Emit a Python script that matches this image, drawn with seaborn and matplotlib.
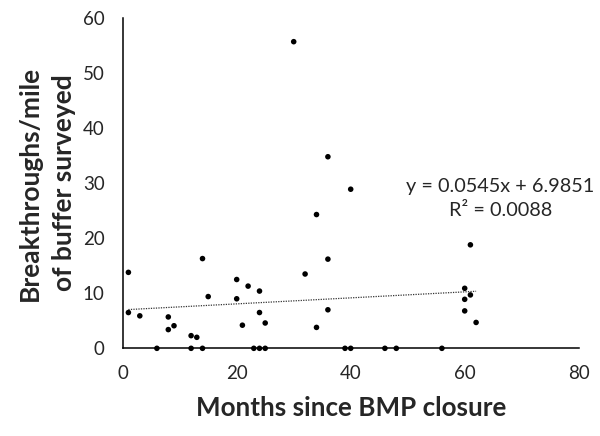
import matplotlib
matplotlib.use("Agg")
import matplotlib.pyplot as plt
import numpy as np
import pandas as pd
import seaborn as sns

# months since closure and breakthroughs per mile
MONTHS = [1, 1, 3, 6, 8, 8, 9, 12, 12, 13, 14, 14, 15, 20, 20, 21, 22, 23,
          24, 24, 24, 25, 25, 30, 32, 34, 34, 36, 36, 36, 39, 40, 40, 46, 48,
          56, 60, 60, 60, 61, 61, 62]
BREAKTHROUGHS = [13.8, 6.5, 5.9, 0, 5.7, 3.4, 4.1, 2.3, 0, 2.0, 16.3, 0, 9.4,
                 12.5, 9.0, 4.2, 11.3, 0, 10.4, 6.5, 0, 4.6, 0, 55.7, 13.5,
                 24.3, 3.8, 34.8, 16.2, 7.0, 0, 28.9, 0, 0, 0, 0, 10.9, 8.9,
                 6.8, 18.8, 9.7, 4.7]

SLOPE = 0.0545
INTERCEPT = 6.9851
R2 = 0.0088

X_TICKS = [0, 20, 40, 60, 80]
Y_TICKS = [0, 10, 20, 30, 40, 50, 60]

sns.set_style("white")
plt.rcParams["font.family"] = ["Lato", "DejaVu Sans"]

df = pd.DataFrame({"months": MONTHS, "rate": BREAKTHROUGHS})

fig = plt.figure(figsize=(6, 4.36), dpi=100)
ax = fig.add_axes([0.2045, 0.2011, 0.76, 0.7576])

sns.scatterplot(data=df, x="months", y="rate", ax=ax, color="black",
                s=16, edgecolor="none", clip_on=False, zorder=3)

fit_x = np.array([min(MONTHS), max(MONTHS)])
ax.plot(fit_x, SLOPE * fit_x + INTERCEPT, color="#333333", lw=0.9,
        ls=(0, (1, 1)), zorder=2)

ax.text(0.827, 0.491, f"y = {SLOPE}x + {INTERCEPT}", transform=ax.transAxes,
        ha="center", va="center", fontsize=14.3)
ax.text(0.829, 0.416, f"R² = {R2}", transform=ax.transAxes,
        ha="center", va="center", fontsize=14.3)

ax.set_xlim(0, 80)
ax.set_ylim(0, 60)
ax.set_xticks(X_TICKS)
ax.set_yticks(Y_TICKS)
ax.set_xlabel("")
ax.set_ylabel("")
ax.tick_params(length=0, labelsize=13.5)
ax.tick_params(axis="y", pad=13)
ax.tick_params(axis="x", pad=12)

for side in ["top", "right"]:
    ax.spines[side].set_visible(False)
for side in ["left", "bottom"]:
    ax.spines[side].set_color("black")
    ax.spines[side].set_linewidth(1.1)

fig.text(351 / 600, 1 - 408 / 436, "Months since BMP closure", fontsize=18.7,
         fontweight="bold", ha="center", va="center")
fig.text(47 / 600, 1 - 183 / 436, "Breakthroughs/mile\nof buffer surveyed",
         fontsize=19, fontweight="bold", rotation=90, ha="center",
         va="center", multialignment="center", linespacing=1.55)

fig.savefig("out.png", dpi=100)
